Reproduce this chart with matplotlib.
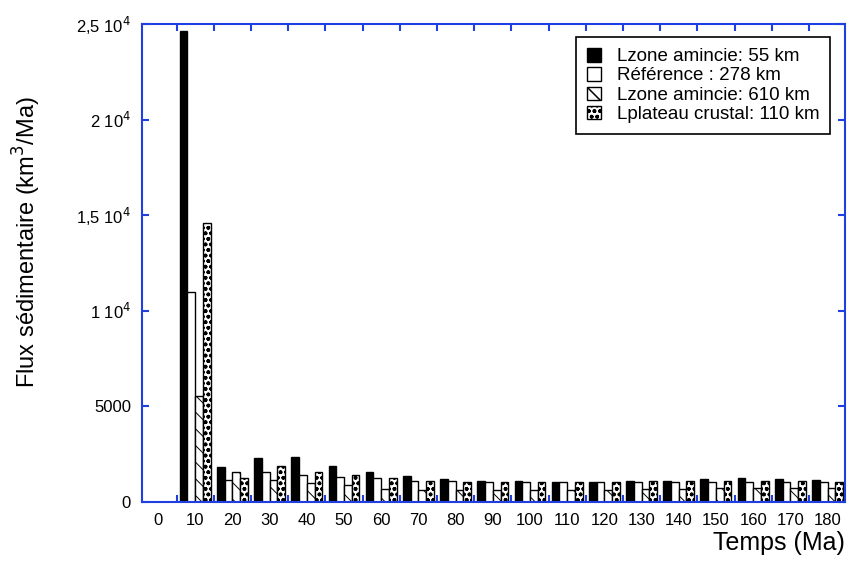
import matplotlib
matplotlib.use("Agg")
import matplotlib.pyplot as plt
import numpy as np

plt.rcParams['font.family'] = ['Liberation Sans', 'DejaVu Sans']

# temps (Ma) et flux sedimentaire (km3/Ma)
temps = [10, 20, 30, 40, 50, 60, 70, 80, 90, 100, 110, 120, 130, 140, 150, 160, 170, 180]
zone55 = [24630, 1820, 2290, 2370, 1900, 1560, 1380, 1190, 1110, 1090, 1050, 1050, 1100, 1120, 1200, 1280, 1220, 1150]
reference = [11000, 1150, 1550, 1410, 1320, 1270, 1100, 1100, 1060, 1060, 1060, 1060, 1060, 1060, 1060, 1060, 1060, 1060]
zone610 = [5560, 1550, 1150, 980, 900, 700, 650, 650, 620, 650, 650, 650, 700, 700, 750, 750, 750, 750]
plateau110 = [14610, 1270, 1880, 1585, 1400, 1270, 1080, 1060, 1060, 1060, 1060, 1060, 1080, 1080, 1100, 1080, 1080, 1060]

labels = ['Lzone amincie: 55 km', 'Référence : 278 km', 'Lzone amincie: 610 km', 'Lplateau crustal: 110 km']
xtick_vals = list(range(0, 190, 10))
ytick_vals = [0, 5000, 10000, 15000, 20000, 25000]
ytick_labels = ['0', '5000', r'1 10$^{4}$', r'1,5 10$^{4}$', r'2 10$^{4}$', r'2,5 10$^{4}$']

blue = '#1f3fe0'

fig = plt.figure(figsize=(8.49, 5.62), dpi=100)
ax = fig.add_axes([0.1673, 0.1068, 0.828, 0.8505])

x = np.array(temps)
w = 2.08
series = [zone55, reference, zone610, plateau110]
faces = ['black', 'white', 'white', 'white']
hatches = [None, None, '\\\\', 'ooo']
hlw = [0.8, 0.8, 0.7, 1.1]
for i, (vals, fc, h, lab) in enumerate(zip(series, faces, hatches, labels)):
    plt.rcParams['hatch.linewidth'] = hlw[i]
    ax.bar(x + (i - 1.5) * w, vals, width=w, color=fc, edgecolor='black',
           linewidth=1.0, hatch=h, label=lab)

ax.set_xlim(-4.3, 184.7)
ax.set_ylim(0, 25000)

ax.set_xticks(xtick_vals)
ax.set_xticks(np.arange(5, 185, 10), minor=True)
ax.tick_params(axis='x', which='major', length=0, labelsize=12, pad=8)
ax.tick_params(axis='x', which='minor', direction='in', length=5, width=1.5,
               color=blue, top=True)
ax.set_yticks(ytick_vals)
ax.set_yticklabels(ytick_labels)
ax.tick_params(axis='y', which='major', direction='in', length=5, width=1.5,
               color=blue, right=True, labelsize=12, pad=8)

for s in ax.spines.values():
    s.set_color(blue)
    s.set_linewidth(1.5)

ax.set_ylabel('Flux sédimentaire (km$^{3}$/Ma)', fontsize=17)
ax.yaxis.set_label_coords(-0.141, 0.544)
fig.text(0.995, 0.012, 'Temps (Ma)', fontsize=18, ha='right', va='bottom')

leg = ax.legend(loc='upper right', bbox_to_anchor=(0.979, 0.972), borderaxespad=0,
                fontsize=13, handlelength=0.75, handleheight=0.75, handletextpad=0.9,
                labelspacing=0.12, borderpad=0.6, fancybox=False,
                edgecolor='black', framealpha=1)
leg.get_frame().set_linewidth(1.2)
for t in leg.get_texts():
    t.set_fontsize(13.5)

plt.savefig('out.png', dpi=100)
